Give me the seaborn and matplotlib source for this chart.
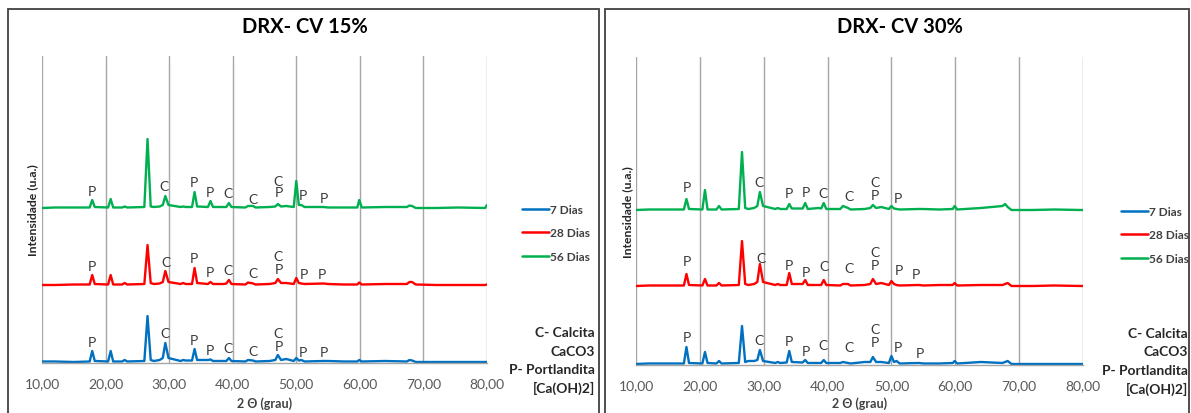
import matplotlib
matplotlib.use("Agg")
import matplotlib.pyplot as plt
import seaborn as sns
import pandas as pd
from matplotlib.patches import Rectangle

# ---------------- DATA ----------------
two_theta = [10.0, 12.0, 15.0, 17.5, 17.9, 18.3, 20.4, 20.8, 21.2, 22.6, 23.0, 23.4,
             26.1, 26.6, 27.1, 27.6, 28.5, 29.0, 29.4, 29.9, 31.8, 32.2, 32.6, 33.6,
             34.0, 34.4, 36.1, 36.5, 36.9, 38.6, 39.0, 39.4, 39.8, 42.0, 42.4, 43.2,
             43.6, 45.8, 46.7, 47.1, 47.6, 48.4, 49.6, 50.0, 50.4, 50.8, 51.3, 54.3,
             55.0, 57.5, 59.6, 59.9, 60.3, 64.0, 67.4, 67.8, 68.2, 68.8, 72.0, 75.5,
             79.7, 80.0]

series_names = ["7 Dias", "28 Dias", "56 Dias"]

# CV 15%
cv15_7 = [0.5, 0.5, 0, 0.5, 11, 1, 0.5, 11, 0.5, 0.5, 2, 0.5,
          1, 46, 2, 1, 2, 4, 19, 4, 1, 2, 1.5, 1.5,
          13, 2, 2, 2.5, 1, 1, 1, 4, 1, 0.5, 2, 1.5,
          0.5, 1, 2, 7, 2, 3, 1, 4, 1.5, 2, 0.5, 1,
          1, 0.5, 0.5, 2, 0.5, 1, 0.5, 2, 1.5, 0, 0, 0,
          0, 0]
cv15_28 = [0, 0, 0.5, 0.5, 10, 1, 0.5, 10, 0.5, 0.5, 2, 0.5,
           1, 40, 2, 1, 1.5, 3, 14, 3, 1, 2, 1, 1,
           17, 2, 1, 3, 1, 1, 1.5, 5, 1, 0.5, 2.5, 1.5,
           0.5, 1, 2, 6, 2, 2, 1, 7, 2, 1.5, 1, 1.5,
           1, 0.5, 0.5, 2.5, 0.5, 1, 1, 3, 3, 0.5, 0, 0,
           0, 0.5]
cv15_56 = [0, 0.5, 0.5, 0.5, 8, 1, 0.5, 9, 0.5, 0.5, 1.5, 0.5,
           1, 69, 1.5, 1, 1.5, 3, 12, 3, 1, 1.5, 1, 1,
           16, 1.5, 1, 7, 1, 1, 1, 5, 1, 0.5, 2, 2,
           0.5, 1, 1.5, 4, 1.5, 2, 1, 27, 3, 3, 1, 1,
           0.5, 0.5, 0.5, 8, 0.5, 1, 1, 2.5, 2, 0, 0, 0.5,
           0, 3]

# CV 30%
cv30_7 = [0, 0.5, 0.5, 0.5, 17, 1, 0.5, 12, 1, 0.5, 3, 0.5,
          1, 38, 2, 3, 3, 4, 14, 3, 1, 2, 1, 1.5,
          13, 2, 1.5, 4, 1, 1, 1, 4, 1, 1, 2, 1,
          0.5, 2, 2, 7, 2, 2, 1, 8, 2, 3, 0.5, 1,
          0.5, 0.5, 1, 3, 0.5, 2, 1, 2, 3, 0, 0, 0,
          0, 0]
cv30_28 = [0, 0.5, 0.5, 0.5, 12, 1, 0.5, 7, 0.5, 0.5, 3, 0.5,
           1, 45, 2, 1, 2, 4, 22, 4, 1, 2, 1, 1,
           13, 2, 2, 6, 1, 1, 1, 6, 1, 0.5, 2, 2,
           0.5, 1, 2, 7, 2, 3, 1, 5, 2, 1, 0.5, 1,
           0.5, 1, 1, 3, 0.5, 1, 1, 2, 3, 0, 0, 0.5,
           0, 0]
cv30_56 = [0, 0.5, 0.5, 0.5, 11, 1, 0.5, 20, 0.5, 0.5, 4, 0.5,
           1, 58, 2, 1, 2, 4, 18, 4, 1, 2, 1, 1,
           6, 1.5, 1.5, 7, 1, 2, 1.5, 7, 1, 1, 4, 2,
           0.5, 1, 2, 5, 2, 3, 1, 4, 1.5, 1, 0.5, 1,
           1, 0.5, 1, 4, 0.5, 2, 4, 6, 3, 0, 0, 0.5,
           0, 0]

# vertical stacking offsets (same units as intensity)
offsets_15 = [1, 78, 155]
offsets_30 = [1, 79, 155]

# phase labels: (2theta, height above axis bottom, text) per series
labels_15 = {
    "56 Dias": [(17.8, 172, "P"), (29.2, 177, "C"), (33.9, 181, "P"), (36.4, 171, "P"),
                (39.3, 170, "C"), (43.2, 164, "C"), (47.2, 182, "C"), (47.2, 171, "P"),
                (51.1, 168, "P"), (54.3, 165, "P")],
    "28 Dias": [(17.8, 97, "P"), (29.5, 101, "C"), (33.9, 105, "P"), (36.4, 91, "P"),
                (39.3, 93, "C"), (43.2, 90, "C"), (47.2, 107, "C"), (47.2, 94, "P"),
                (51.2, 89, "P"), (54.0, 89, "P")],
    "7 Dias": [(17.8, 21, "P"), (29.4, 30, "C"), (33.9, 23, "P"), (36.4, 13, "P"),
               (39.3, 15, "C"), (43.2, 12, "C"), (47.2, 30, "C"), (47.2, 17, "P"),
               (51.0, 11, "P"), (54.3, 11, "P")],
}
labels_30 = {
    "56 Dias": [(17.9, 178, "P"), (29.3, 183, "C"), (34.0, 172, "P"), (36.6, 173, "P"),
                (39.3, 172, "C"), (43.4, 169, "C"), (47.4, 183, "C"), (47.4, 170, "P"),
                (51.0, 167, "P")],
    "28 Dias": [(17.9, 104, "P"), (29.6, 107, "C"), (34.0, 100, "P"), (36.6, 93, "P"),
                (39.4, 99, "C"), (43.4, 97, "C"), (47.4, 113, "C"), (47.4, 100, "P"),
                (51.2, 95, "P"), (53.8, 91, "P")],
    "7 Dias": [(17.9, 28, "P"), (29.3, 25, "C"), (34.0, 24, "P"), (36.6, 14, "P"),
               (39.3, 20, "C"), (43.4, 18, "C"), (47.4, 36, "C"), (47.4, 23, "P"),
               (51.0, 18, "P"), (54.4, 12, "P")],
}

titles = ["DRX- CV 15%", "DRX- CV 30%"]
x_ticks = [10, 20, 30, 40, 50, 60, 70, 80]
x_label = "2 Θ (grau)"
y_label = "Intensidade (u.a.)"
note_lines = ["C- Calcita", "CaCO3", "P- Portlandita", "[Ca(OH)2]"]

colors = {"7 Dias": "#0070C0", "28 Dias": "#FF0000", "56 Dias": "#00B050"}

# ---------------- PLOT ----------------
sns.set_theme(style="white")
plt.rcParams["font.family"] = ["Lato", "DejaVu Sans"]

W, H = 1191, 414
fig = plt.figure(figsize=(W / 100, H / 100), dpi=100)
fig.patch.set_facecolor("white")


def fx(px):
    return px / W


def fy(py):
    return 1 - py / H


panels = [
    dict(values=[cv15_7, cv15_28, cv15_56], offsets=offsets_15, labels=labels_15,
         ax=(42, 57, 487, 364), border=(8, 10, 599, 420), title_x=305,
         leg=(522, 234), ylab=(33, 210), notes_x=595, notes_y=[333, 352, 370, 388]),
    dict(values=[cv30_7, cv30_28, cv30_56], offsets=offsets_30, labels=labels_30,
         ax=(636, 58, 1083, 366), border=(605, 10, 1189, 420), title_x=900,
         leg=(1121, 236), ylab=(628, 212), notes_x=1188, notes_y=[334, 352, 371, 389]),
]

for p, title in zip(panels, titles):
    bx0, by0, bx1, by1 = p["border"]
    fig.patches.append(Rectangle((fx(bx0), fy(by1)), fx(bx1 - bx0), (by1 - by0) / H,
                                 transform=fig.transFigure, fill=False,
                                 edgecolor="#404040", linewidth=1.3, zorder=0))
    ax0, ay0, ax1, ay1 = p["ax"]
    ax = fig.add_axes([fx(ax0), fy(ay1), fx(ax1 - ax0), (ay1 - ay0) / H])
    ax.set_facecolor("none")

    rows = []
    for name, vals, off in zip(series_names, p["values"], p["offsets"]):
        for t, v in zip(two_theta, vals):
            rows.append({"2theta": t, "I": v + off, "serie": name})
    df = pd.DataFrame(rows)
    sns.lineplot(data=df, x="2theta", y="I", hue="serie", palette=colors,
                 hue_order=series_names, linewidth=1.7, ax=ax, sort=True,
                 estimator=None)

    for name in series_names:
        for (t, h, txt) in p["labels"][name]:
            ax.text(t, h, txt, ha="center", va="center", fontsize=10,
                    color="#3A3A3A")

    ax.set_xlim(10, 80)
    ax.set_ylim(0, ay1 - ay0)
    ax.set_xticks(x_ticks)
    ax.set_xticklabels([f"{v:.2f}".replace(".", ",") for v in x_ticks],
                       fontsize=10, color="#595959")
    ax.set_yticks([])
    ax.tick_params(axis="x", length=0, pad=10)
    ax.grid(axis="x", color="#A6A6A6", linewidth=1.0)
    ax.set_axisbelow(True)
    for s in ["top", "right", "left"]:
        ax.spines[s].set_visible(False)
    ax.spines["bottom"].set_color("#A6A6A6")
    ax.spines["bottom"].set_linewidth(1.0)
    ax.set_xlabel("")
    ax.set_ylabel("")

    lx, ly = p["leg"]
    leg = ax.legend(loc="center left",
                    bbox_to_anchor=((lx - ax0) / (ax1 - ax0), (ay1 - ly) / (ay1 - ay0)),
                    frameon=False, handlelength=2.25, handletextpad=0.1,
                    labelspacing=1.05, borderpad=0, borderaxespad=0,
                    prop={"weight": "bold", "size": 8.6})
    for t in leg.get_texts():
        t.set_color("#404040")
    for l in leg.get_lines():
        l.set_linewidth(1.8)

    fig.text(fx(p["title_x"]), fy(27), title, ha="center", va="center",
             fontsize=14.5, fontweight="bold", color="black")
    fig.text(fx((ax0 + ax1) / 2), fy(404), x_label, ha="center", va="center",
             fontsize=9, fontweight="bold", color="#404040")
    fig.text(fx(p["ylab"][0]), fy(p["ylab"][1]), y_label, ha="center", va="center",
             rotation=90, fontsize=8.8, fontweight="bold", color="#262626")
    for line, yy in zip(note_lines, p["notes_y"]):
        fig.text(fx(p["notes_x"]), fy(yy), line, ha="right", va="center",
                 fontsize=10, fontweight="bold", color="#262626")

fig.savefig("out.png", dpi=100)
